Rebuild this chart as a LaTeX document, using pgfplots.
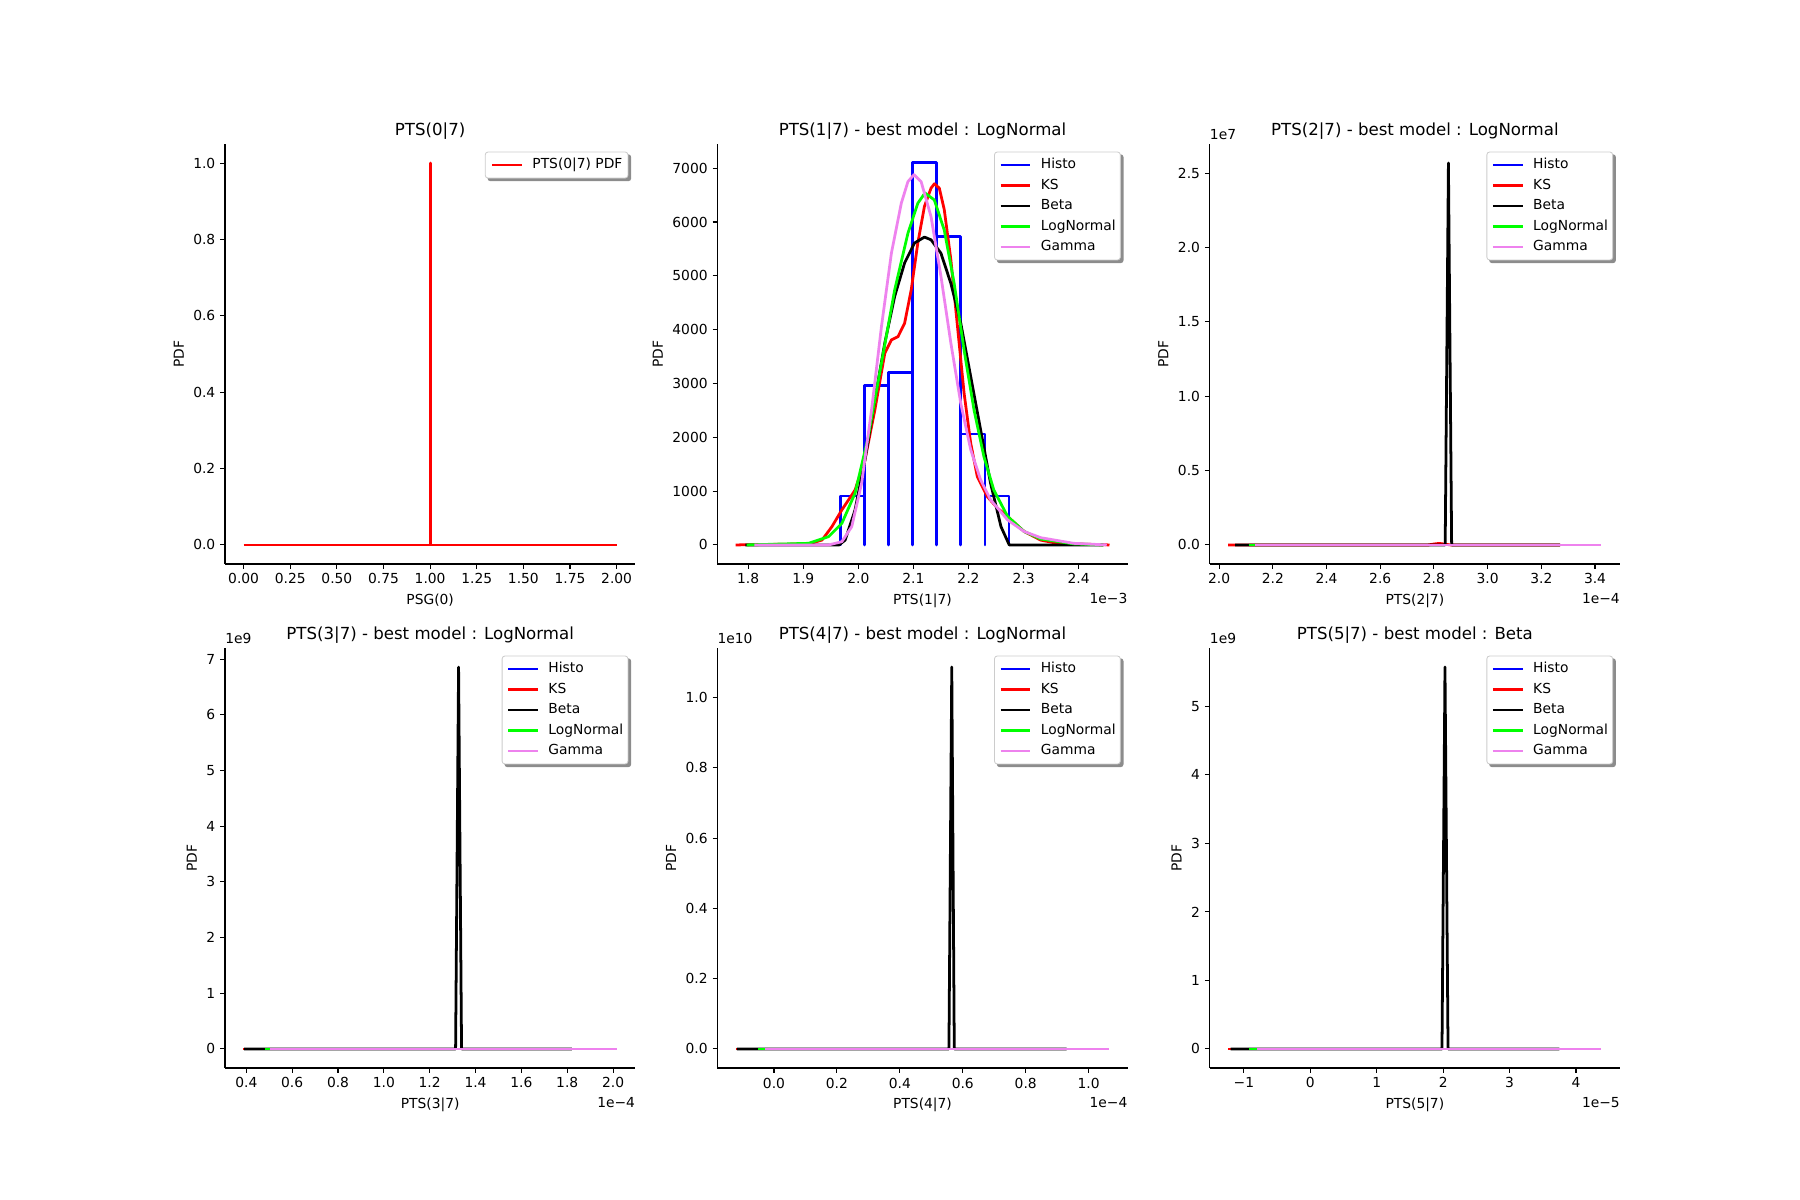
\documentclass[border=0pt]{standalone}
\usepackage{fontspec}
\setmainfont{DejaVu Sans}
\usepackage{pgfplots}
\pgfplotsset{compat=1.18}
\pgfdeclarelayer{background}
\pgfsetlayers{background,main}
\definecolor{mviolet}{HTML}{EE82EE}
\definecolor{mgreen}{rgb}{0,1,0}
\definecolor{mblue}{rgb}{0,0,1}
\definecolor{mred}{rgb}{1,0,0}
\definecolor{frameg}{gray}{0.8}
\definecolor{shadowg}{gray}{0.55}
\tikzset{L/.style={line width=2pt, line join=round}}
\pgfplotsset{
 mpl/.style={
  scale only axis, width=4.103in, height=4.2in,
  axis x line*=bottom, axis y line*=left,
  axis line style={line width=0.8pt, -},
  tick align=outside, major tick length=3.5pt,
  tick style={line width=0.8pt, black},
  every tick label/.append style={font=\fontsize{10}{12}\selectfont},
  label style={font=\fontsize{10}{12}\selectfont},
  legend cell align=left,
  legend style={at={(1,1)}, anchor=north east, xshift=-5pt, yshift=-5.5pt, draw=frameg, line width=0.6pt, rounded corners=2pt, fill=white, font=\fontsize{10}{12}\selectfont,
    inner xsep=3.4pt, inner ysep=2pt, column sep=6.5pt,
    nodes={inner xsep=0pt, inner ysep=2.4pt, text height=7.6pt, text depth=2.4pt}},
  legend image code/.code={\draw[#1, line width=2pt] (0pt,0pt) -- (21.6pt,0pt);},
  ylabel=PDF,
  scaled ticks=false,
  clip=false,
 }
}
\newcommand{\ofs}{\fontsize{10}{12}\selectfont}
\newcommand{\tfs}{\fontsize{12}{14}\selectfont}
\newcommand{\shadow}[1]{\begin{pgfonlayer}{background}\fill[shadowg, rounded corners=2pt] ([shift={(2pt,-2pt)}]#1.south west) rectangle ([shift={(2pt,-2pt)}]#1.north east);\end{pgfonlayer}}
\begin{document}
\begin{tikzpicture}
\path[use as bounding box] (0,0) rectangle (18in,12in);

% ---------- subplot 1
\begin{axis}[mpl, name=a1, at={(2.25in,6.36in)},
  xlabel={PSG(0)}, legend style={name=L1, inner xsep=4pt},
  xmin=-0.1, xmax=2.1, ymin=-0.05, ymax=1.05,
  xtick={0,0.25,0.5,0.75,1,1.25,1.5,1.75,2},
  xticklabels={0.00,0.25,0.50,0.75,1.00,1.25,1.50,1.75,2.00},
  ytick={0,0.2,0.4,0.6,0.8,1.0},
  yticklabels={0.0,0.2,0.4,0.6,0.8,1.0}]
\addplot[mred, L] coordinates {(0,0) (1,0) (1,1) (1,0) (2,0)};
\addlegendentry{PTS(0|7) PDF}
\end{axis}
\shadow{L1}
\node[anchor=base, inner sep=0pt, font=\tfs] at ([yshift=6pt]a1.north) {PTS(0|7)};

% ---------- subplot 2
\begin{axis}[mpl, name=a2, at={(7.1735in,6.36in)},
  xlabel={PTS(1|7)}, legend style={name=L2},
  xmin=1.744, xmax=2.489, ymin=-354, ymax=7450,
  xtick={1.8,1.9,2.0,2.1,2.2,2.3,2.4},
  xticklabels={1.8,1.9,2.0,2.1,2.2,2.3,2.4},
  ytick={0,1000,2000,3000,4000,5000,6000,7000},
  yticklabels={0,1000,2000,3000,4000,5000,6000,7000}]
\addplot[mblue, L] coordinates {(1.9456,0) (1.9676,0) (1.9676,911) (2.0113,911) (2.0113,0) (2.0113,2968) (2.0550,2968) (2.0550,0) (2.0550,3209) (2.0987,3209) (2.0987,0) (2.0987,7107) (2.1424,7107) (2.1424,0) (2.1424,5725) (2.1861,5725) (2.1861,0) (2.1861,2063) (2.2298,2063) (2.2298,0) (2.2298,911) (2.2735,911) (2.2735,0) (2.2977,0)};
\addlegendentry{Histo}
\addplot[mred, L] coordinates {(1.777,0) (1.9095,20) (1.934,90) (1.952,340) (1.970,650) (1.994,1020) (2.012,1580) (2.030,2510) (2.048,3560) (2.060,3810) (2.072,3870) (2.084,4120) (2.096,4740) (2.108,5610) (2.120,6290) (2.132,6630) (2.138,6710) (2.147,6630) (2.156,6230) (2.168,5300) (2.180,4060) (2.192,2820) (2.204,1890) (2.216,1270) (2.234,900) (2.253,680) (2.271,530) (2.301,250) (2.331,90) (2.361,30) (2.456,0)};
\addlegendentry{KS}
\addplot[black, L] coordinates {(1.795,0) (1.965,0) (1.976,90) (1.994,650) (2.012,1580) (2.030,2700) (2.048,3750) (2.066,4620) (2.084,5240) (2.102,5610) (2.120,5720) (2.132,5670) (2.150,5420) (2.168,4860) (2.186,4120) (2.204,3130) (2.222,2140) (2.240,1150) (2.259,340) (2.274,0) (2.445,0)};
\addlegendentry{Beta}
\addplot[mgreen, L] coordinates {(1.797,0) (1.9095,30) (1.946,155) (1.970,400) (1.994,960) (2.018,2010) (2.042,3380) (2.066,4740) (2.090,5790) (2.108,6350) (2.121,6540) (2.138,6410) (2.156,5850) (2.174,4860) (2.192,3620) (2.210,2510) (2.228,1640) (2.246,1020) (2.271,530) (2.301,250) (2.331,110) (2.391,20) (2.445,0)};
\addlegendentry{LogNormal}
\addplot[mviolet, L] coordinates {(1.811,0) (1.946,0) (1.970,60) (1.988,340) (2.006,1150) (2.024,2510) (2.042,4060) (2.060,5420) (2.078,6350) (2.090,6750) (2.101,6880) (2.114,6750) (2.132,6100) (2.150,4990) (2.168,3750) (2.186,2630) (2.204,1770) (2.222,1210) (2.240,840) (2.271,465) (2.301,250) (2.331,135) (2.391,30) (2.451,0)};
\addlegendentry{Gamma}
\end{axis}
\shadow{L2}
\node[anchor=base, inner sep=0pt, font=\tfs] at ([yshift=6pt]a2.north) {PTS(1|7) - best model : LogNormal};
\node[anchor=north east, inner sep=0pt, font=\ofs] at ([yshift=-21pt]a2.south east) {1e−3};

% ---------- subplot 3
\begin{axis}[mpl, name=a3, at={(12.097in,6.36in)},
  xlabel={PTS(2|7)}, legend style={name=L3},
  xmin=1.965, xmax=3.493, ymin=-0.1285, ymax=2.697,
  xtick={2.0,2.2,2.4,2.6,2.8,3.0,3.2,3.4},
  xticklabels={2.0,2.2,2.4,2.6,2.8,3.0,3.2,3.4},
  ytick={0,0.5,1.0,1.5,2.0,2.5},
  yticklabels={0.0,0.5,1.0,1.5,2.0,2.5}]
\addplot[mblue, L] coordinates {(2.345,0) (2.87,0)};
\addlegendentry{Histo}
\addplot[mred, L] coordinates {(2.034,0) (2.78,0) (2.80,0.006) (2.82,0.01) (2.84,0.005) (2.86,0) (3.27,0)};
\addlegendentry{KS}
\addplot[black, L] coordinates {(2.06,0) (2.842,0) (2.854,2.569) (2.866,0) (3.27,0)};
\addlegendentry{Beta}
\addplot[mgreen, L] coordinates {(2.11,0) (3.27,0)};
\addlegendentry{LogNormal}
\addplot[mviolet, L] coordinates {(2.135,0) (3.423,0)};
\addlegendentry{Gamma}
\end{axis}
\shadow{L3}
\node[anchor=base, inner sep=0pt, font=\tfs] at ([yshift=6pt]a3.north) {PTS(2|7) - best model : LogNormal};
\node[anchor=south west, inner sep=0pt, font=\ofs] at ([yshift=3pt]a3.north west) {1e7};
\node[anchor=north east, inner sep=0pt, font=\ofs] at ([yshift=-21pt]a3.south east) {1e−4};

% ---------- subplot 4
\begin{axis}[mpl, name=a4, at={(2.25in,1.32in)},
  xlabel={PTS(3|7)}, legend style={name=L4},
  xmin=0.307, xmax=2.097, ymin=-0.343, ymax=7.203,
  xtick={0.4,0.6,0.8,1.0,1.2,1.4,1.6,1.8,2.0},
  xticklabels={0.4,0.6,0.8,1.0,1.2,1.4,1.6,1.8,2.0},
  ytick={0,1,2,3,4,5,6,7},
  yticklabels={0,1,2,3,4,5,6,7}]
\addplot[mblue, L] coordinates {(0.70,0) (1.34,0)};
\addlegendentry{Histo}
\addplot[mred, L] coordinates {(0.385,0) (1.82,0)};
\addlegendentry{KS}
\addplot[black, L] coordinates {(0.39,0) (1.313,0) (1.326,6.86) (1.339,0) (1.82,0)};
\addlegendentry{Beta}
\addplot[mgreen, L] coordinates {(0.48,0) (2.0,0)};
\addlegendentry{LogNormal}
\addplot[mviolet, L] coordinates {(0.505,0) (2.016,0)};
\addlegendentry{Gamma}
\end{axis}
\shadow{L4}
\node[anchor=base, inner sep=0pt, font=\tfs] at ([yshift=6pt]a4.north) {PTS(3|7) - best model : LogNormal};
\node[anchor=south west, inner sep=0pt, font=\ofs] at ([yshift=3pt]a4.north west) {1e9};
\node[anchor=north east, inner sep=0pt, font=\ofs] at ([yshift=-21pt]a4.south east) {1e−4};

% ---------- subplot 5
\begin{axis}[mpl, name=a5, at={(7.1735in,1.32in)},
  xlabel={PTS(4|7)}, legend style={name=L5},
  xmin=-0.180, xmax=1.124, ymin=-0.0544, ymax=1.141,
  xtick={0,0.2,0.4,0.6,0.8,1.0},
  xticklabels={0.0,0.2,0.4,0.6,0.8,1.0},
  ytick={0,0.2,0.4,0.6,0.8,1.0},
  yticklabels={0.0,0.2,0.4,0.6,0.8,1.0}]
\addplot[mblue, L] coordinates {(0.10,0) (0.58,0)};
\addlegendentry{Histo}
\addplot[mred, L] coordinates {(-0.121,0) (0.93,0)};
\addlegendentry{KS}
\addplot[black, L] coordinates {(-0.118,0) (0.556,0) (0.565,1.087) (0.573,0) (0.93,0)};
\addlegendentry{Beta}
\addplot[mgreen, L] coordinates {(-0.05,0) (1.05,0)};
\addlegendentry{LogNormal}
\addplot[mviolet, L] coordinates {(-0.03,0) (1.065,0)};
\addlegendentry{Gamma}
\end{axis}
\shadow{L5}
\node[anchor=base, inner sep=0pt, font=\tfs] at ([yshift=6pt]a5.north) {PTS(4|7) - best model : LogNormal};
\node[anchor=south west, inner sep=0pt, font=\ofs] at ([yshift=3pt]a5.north west) {1e10};
\node[anchor=north east, inner sep=0pt, font=\ofs] at ([yshift=-21pt]a5.south east) {1e−4};

% ---------- subplot 6
\begin{axis}[mpl, name=a6, at={(12.097in,1.32in)},
  xlabel={PTS(5|7)}, legend style={name=L6},
  xmin=-1.515, xmax=4.662, ymin=-0.279, ymax=5.853,
  xtick={-1,0,1,2,3,4},
  xticklabels={−1,0,1,2,3,4},
  ytick={0,1,2,3,4,5},
  yticklabels={0,1,2,3,4,5}]
\addplot[mblue, L] coordinates {(0.15,0) (2.1,0)};
\addlegendentry{Histo}
\addplot[mred, L] coordinates {(-1.234,0) (3.75,0)};
\addlegendentry{KS}
\addplot[black, L] coordinates {(-1.2,0) (1.982,0) (2.027,5.575) (2.073,0) (3.75,0)};
\addlegendentry{Beta}
\addplot[mgreen, L] coordinates {(-0.92,0) (4.3,0)};
\addlegendentry{LogNormal}
\addplot[mviolet, L] coordinates {(-0.8,0) (4.381,0)};
\addlegendentry{Gamma}
\end{axis}
\shadow{L6}
\node[anchor=base, inner sep=0pt, font=\tfs] at ([yshift=6pt]a6.north) {PTS(5|7) - best model : Beta};
\node[anchor=south west, inner sep=0pt, font=\ofs] at ([yshift=3pt]a6.north west) {1e9};
\node[anchor=north east, inner sep=0pt, font=\ofs] at ([yshift=-21pt]a6.south east) {1e−5};
\end{tikzpicture}
\end{document}
